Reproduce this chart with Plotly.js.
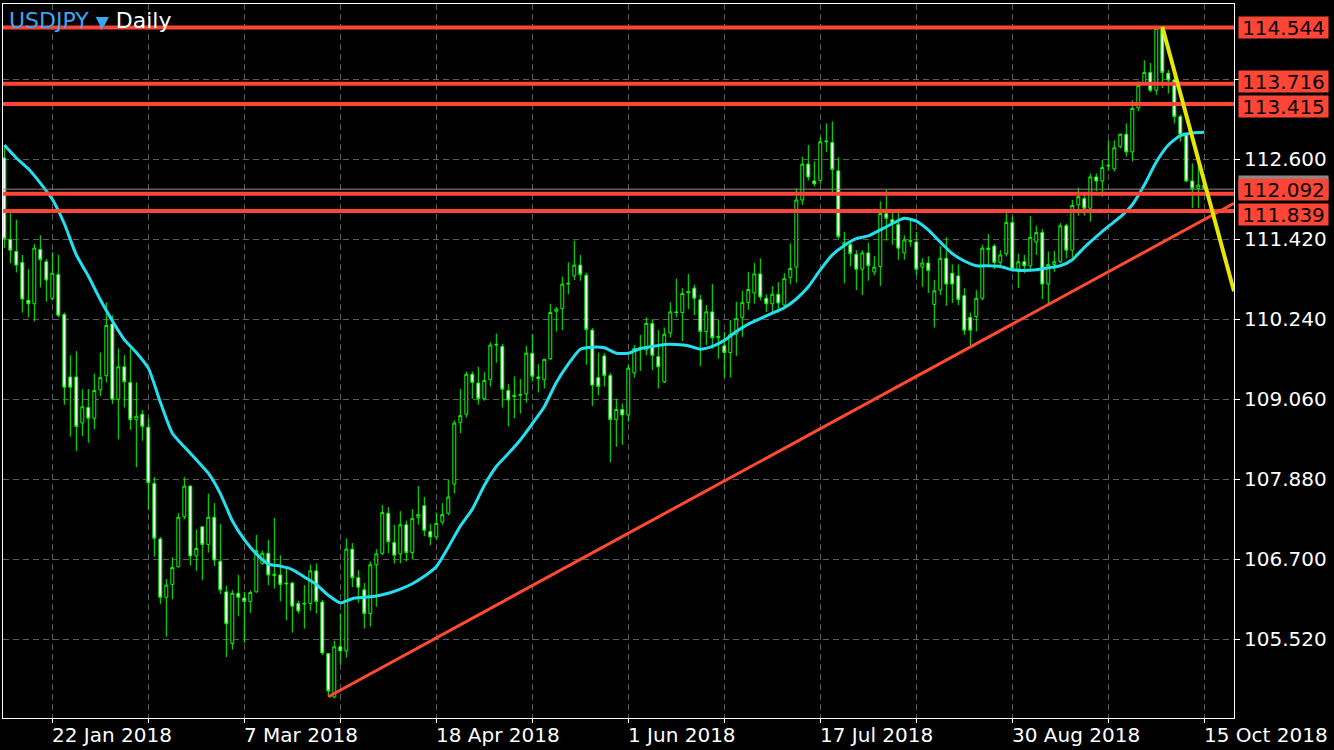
<!DOCTYPE html>
<html>
<head>
<meta charset="utf-8">
<script src="https://cdn.plot.ly/plotly-3.0.1.min.js"></script>
<style>html,body{margin:0;padding:0;background:#000;}#chart{width:1334px;height:750px;}</style>
</head>
<body>
<div id="chart"></div>
<script>
// ---------- DATA ----------
const START_DATE = '2018-01-10';
const END_DATE = '2018-10-15';
const extraSundayBars = ['2018-03-11', '2018-03-18'];

const open = [
112.62,111.42,111.24,111.08,110.52,110.47,111.27,111.09,110.55,110.90,
110.31,109.39,109.39,108.71,108.94,108.78,109.20,109.41,110.17,109.06,
109.54,109.31,108.76,108.84,108.65,107.82,107.00,106.14,106.33,106.59,
107.33,107.78,106.75,107.18,106.92,107.32,106.67,106.22,105.46,106.20,
106.13,106.08,106.22,106.64,106.79,106.46,106.47,106.35,106.35,106.05,
106.04,106.05,106.53,106.07,105.31,104.67,105.41,105.35,106.85,106.43,
106.25,105.90,106.62,106.79,107.38,106.95,106.78,107.21,106.80,107.32,
107.49,107.11,107.03,107.25,107.38,107.81,108.72,108.84,109.43,109.30,
109.07,109.35,109.86,109.84,109.19,109.10,109.12,109.14,109.74,109.39,
109.35,109.66,110.36,110.40,110.76,110.88,111.04,110.89,110.08,109.38,
109.70,109.41,108.76,108.91,108.83,109.45,109.79,109.79,110.18,109.69,
109.32,110.04,110.35,110.34,110.63,110.70,110.53,110.06,110.35,109.97,
109.85,109.75,110.02,110.27,110.49,110.63,110.91,110.55,110.47,110.61,
110.45,110.86,111.01,112.00,112.53,112.28,112.29,112.86,112.85,112.43,
111.34,111.34,111.20,110.98,111.22,110.94,111.02,111.80,111.71,111.64,
111.22,111.40,111.38,111.01,111.07,110.46,110.67,111.14,110.92,110.88,
110.59,110.27,110.28,110.55,111.27,111.32,111.08,111.21,111.67,110.98,
111.09,111.03,111.38,111.52,110.76,111.05,111.09,111.62,111.26,111.93,
112.02,111.88,112.34,112.28,112.50,112.46,112.79,112.97,112.71,113.36,
113.72,113.88,113.62,114.54,113.87,113.77,113.23,112.96,112.28,112.17,
112.22];

const high = [
112.79,111.83,111.71,111.19,110.98,111.35,111.48,111.13,111.23,111.19,
110.34,109.71,109.77,109.21,109.21,109.44,109.75,110.49,110.30,109.81,
109.71,109.81,109.31,108.90,108.78,107.91,107.03,106.41,106.73,107.38,
107.91,107.79,107.14,107.19,107.67,107.53,107.22,106.31,106.25,106.47,
106.22,106.24,107.06,106.83,106.99,107.31,106.76,106.58,106.37,106.09,
106.32,106.62,106.64,106.10,105.32,105.50,105.90,107.01,106.94,106.54,
106.35,106.67,106.85,107.50,107.47,107.21,107.41,107.27,107.44,107.78,
107.62,107.22,107.39,107.53,107.87,108.75,109.21,109.47,109.47,109.54,
109.46,109.90,110.03,109.88,109.29,109.40,109.36,109.85,110.02,109.58,
109.66,110.47,110.42,110.87,111.08,111.40,111.19,110.93,110.11,109.75,
109.74,109.45,109.07,109.00,109.57,109.86,110.01,110.27,110.24,110.08,
110.12,110.49,110.84,110.70,110.91,110.75,110.60,110.45,110.76,110.23,
110.06,110.23,110.50,110.66,110.94,111.07,111.14,110.61,110.73,110.79,
110.92,111.36,112.17,112.64,112.81,112.57,112.93,113.13,113.16,112.63,
111.53,111.39,111.26,111.26,111.37,111.17,111.98,112.15,111.83,111.83,
111.48,111.73,111.53,111.14,111.17,110.82,111.32,111.45,111.05,111.05,
110.70,110.34,110.67,111.34,111.50,111.35,111.26,111.83,111.76,111.21,
111.19,111.76,111.62,111.57,111.24,111.25,111.66,111.65,112.00,112.18,
112.10,112.39,112.39,112.59,112.88,112.88,112.98,113.13,113.47,113.75,
114.06,114.02,114.54,114.55,113.92,113.84,113.26,112.98,112.54,112.50,
112.26];

const low = [
111.29,111.07,110.93,110.34,110.27,110.21,110.71,110.50,110.52,110.27,
108.98,108.51,108.30,108.52,108.42,108.62,109.11,109.31,108.99,108.47,
108.94,108.61,108.06,108.45,107.43,106.74,106.04,105.56,106.11,106.58,
107.29,106.61,106.53,106.39,106.80,106.60,106.19,105.26,105.37,105.86,
105.47,105.91,106.21,106.62,106.32,106.27,106.08,105.80,105.62,105.90,
105.68,105.94,105.90,105.29,104.67,104.65,105.15,105.25,106.29,106.06,
105.68,105.71,106.00,106.76,106.79,106.64,106.64,106.67,106.70,107.21,
107.04,106.91,106.99,107.21,107.35,107.67,108.56,108.79,109.07,108.98,
109.04,109.25,109.60,108.94,108.66,108.78,108.85,109.01,109.32,109.16,
109.22,109.64,110.06,110.08,110.61,110.82,110.81,109.57,108.96,109.12,
109.25,108.13,108.36,108.39,108.73,109.38,109.48,109.71,109.49,109.22,
109.30,109.97,110.27,109.92,110.39,110.30,109.55,109.86,109.81,109.66,
109.38,109.38,109.70,109.98,110.38,110.47,110.52,110.35,110.33,110.34,
110.43,110.76,110.78,111.93,112.29,112.20,112.24,112.71,112.07,111.43,
110.77,111.02,110.67,110.60,110.81,110.89,110.73,111.40,111.34,111.12,
111.12,111.31,110.89,110.72,110.63,110.12,110.60,110.44,110.48,110.45,
110.01,109.86,110.06,110.52,111.04,110.98,111.03,111.17,110.94,110.70,
110.92,110.97,111.19,110.54,110.44,110.94,111.07,111.14,111.15,111.77,
111.77,111.68,112.13,112.05,112.43,112.42,112.76,112.64,112.57,113.31,
113.70,113.59,113.55,113.65,113.57,113.13,112.86,112.27,111.88,111.88,
112.14];

const close = [
111.43,111.26,111.04,110.54,110.47,111.29,111.12,110.82,110.92,110.30,
109.24,109.24,108.66,108.95,108.78,109.19,109.38,110.15,109.06,109.54,
109.32,108.76,108.81,108.66,107.83,107.01,106.14,106.32,106.58,107.32,
107.78,106.75,106.86,106.92,107.32,106.69,106.25,105.75,106.20,106.14,
106.08,106.21,106.83,106.79,106.47,106.48,106.33,106.34,106.01,105.94,
106.05,106.53,106.08,105.32,104.76,105.41,105.35,106.85,106.43,106.29,
105.90,106.62,106.78,107.39,106.96,106.76,107.21,106.80,107.30,107.36,
107.13,107.03,107.23,107.36,107.62,108.71,108.82,109.43,109.31,109.07,
109.34,109.86,109.87,109.21,109.05,109.12,109.13,109.74,109.40,109.37,
109.65,110.34,110.39,110.76,110.77,111.04,110.90,110.09,109.27,109.25,
109.41,108.76,108.91,108.83,109.52,109.81,109.80,110.18,109.71,109.54,
110.02,110.35,110.34,110.62,110.65,110.55,110.06,110.35,109.97,109.99,
109.75,110.02,110.25,110.49,110.68,110.91,110.57,110.47,110.61,110.48,
110.84,110.99,112.00,112.53,112.34,112.24,112.86,112.87,112.45,111.46,
111.37,111.21,110.98,111.22,111.03,111.01,111.80,111.73,111.66,111.29,
111.41,111.39,110.98,111.07,110.96,110.66,111.14,110.76,110.76,110.53,
110.08,110.08,110.55,111.29,111.29,111.08,111.19,111.67,110.98,111.09,
111.03,111.45,111.52,110.76,111.05,111.09,111.62,111.26,111.92,112.05,
111.88,112.34,112.28,112.48,112.51,112.77,112.97,112.71,113.35,113.69,
113.88,113.62,114.53,113.88,113.77,113.23,112.97,112.28,112.17,112.22,
112.17];

// moving average, read every second bar
const maValues = [
112.81,112.62,112.46,112.25,112.01,111.65,111.19,110.88,110.53,110.22,
109.94,109.75,109.52,109.02,108.56,108.36,108.17,107.97,107.67,107.27,
106.99,106.78,106.63,106.60,106.55,106.44,106.33,106.17,106.06,106.12,
106.14,106.16,106.20,106.26,106.34,106.45,106.59,106.88,107.19,107.44,
107.79,108.07,108.26,108.46,108.70,108.95,109.31,109.58,109.80,109.83,
109.82,109.74,109.74,109.81,109.84,109.87,109.87,109.85,109.80,109.84,
109.93,110.06,110.17,110.25,110.33,110.41,110.54,110.72,110.97,111.19,
111.33,111.43,111.47,111.56,111.65,111.73,111.69,111.56,111.38,111.21,
111.10,111.03,111.03,111.02,110.97,110.96,110.97,111.00,111.03,111.12,
111.30,111.46,111.61,111.75,111.93,112.22,112.56,112.81,112.95,112.99,
113.00];

const levelPrices = [114.544, 113.716, 113.415, 112.092, 111.839];
const bidPrice = 112.16;

const supportTrendDates = ['2018-03-23', '2018-10-15'];
const supportTrendPrices = [104.674, 111.712];
const resistTrendDates = ['2018-10-04', '2018-10-15'];
const resistTrendPrices = [114.556, 112.27];

const priceTicks = [105.52, 106.70, 107.88, 109.06, 110.24, 111.42, 112.60, 113.78];
const dateLabelDates = ['2018-01-22', '2018-03-07', '2018-04-18', '2018-06-01', '2018-07-17', '2018-08-30', '2018-10-15'];
const dateLabelTexts = ['22 Jan 2018', '7 Mar 2018', '18 Apr 2018', '1 Jun 2018', '17 Jul 2018', '30 Aug 2018', '15 Oct 2018'];

// ---------- BUILD ----------
function buildDates() {
  const out = [];
  let d = new Date(START_DATE + 'T00:00:00Z');
  const end = new Date(END_DATE + 'T00:00:00Z');
  while (d <= end) {
    const wd = d.getUTCDay();
    const s = d.toISOString().slice(0, 10);
    if ((wd >= 1 && wd <= 5) || extraSundayBars.includes(s)) out.push(s);
    d = new Date(d.getTime() + 86400000);
  }
  return out;
}
const dates = buildDates();
const maDates = dates.filter((d, i) => i % 2 === 0);

const W = 1334, H = 750;
const MARGIN = { l: 3, r: 100, t: 4, b: 32 };
const X_RANGE = [-0.22, 204.95];
const Y_RANGE = [104.36, 114.891];
const PX_PER_PRICE = (H - MARGIN.t - MARGIN.b) / (Y_RANGE[1] - Y_RANGE[0]);

const FONT = 'DejaVu Sans, Verdana, sans-serif';
const RED = '#ff4636';
const LABEL_H = 21;       // label box height
const LABEL_SPACING = 25; // minimum distance between label centres

const candles = {
  type: 'candlestick',
  x: dates, open: open, high: high, low: low, close: close,
  increasing: { line: { color: '#00ff00', width: 1 }, fillcolor: '#000000' },
  decreasing: { line: { color: '#00ff00', width: 1 }, fillcolor: '#ffffff' },
  whiskerwidth: 0,
  hoverinfo: 'skip',
  showlegend: false
};
const ma = {
  type: 'scatter', mode: 'lines',
  x: maDates, y: maValues,
  line: { color: '#22e0f0', width: 3, shape: 'spline', smoothing: 0.6 },
  hoverinfo: 'skip', showlegend: false
};

function ray(dts, prs, color, width) {
  const i0 = dates.indexOf(dts[0]);
  const i1 = dates.indexOf(dts[1]);
  const slope = (prs[1] - prs[0]) / (i1 - i0);
  const xe = X_RANGE[1];
  return { type: 'line', xref: 'x', yref: 'y', layer: 'above',
    x0: i0, y0: prs[0], x1: xe, y1: prs[0] + slope * (xe - i0),
    line: { color: color, width: width } };
}

const shapes = [];
shapes.push({ type: 'line', xref: 'paper', yref: 'y', x0: 0, x1: 1, y0: bidPrice, y1: bidPrice,
  layer: 'above', line: { color: '#8a8a8a', width: 1 } });
levelPrices.forEach(p => shapes.push({ type: 'line', xref: 'paper', yref: 'y', x0: 0, x1: 1, y0: p, y1: p,
  layer: 'above', line: { color: RED, width: 4 } }));
shapes.push(ray(supportTrendDates, supportTrendPrices, '#ff4a2e', 3));
shapes.push(ray(resistTrendDates, resistTrendPrices, '#e6e600', 4));

// spread price labels apart so they do not overlap
const sortedLevels = levelPrices.slice().sort((a, b) => b - a);
const labelShift = {};
sortedLevels.forEach(p => labelShift[p] = 0);
for (let k = 0; k < sortedLevels.length - 1; k++) {
  const a = sortedLevels[k], b = sortedLevels[k + 1];
  const gap = (a - b) * PX_PER_PRICE + labelShift[a] - labelShift[b];
  if (gap < LABEL_SPACING) {
    const push = (LABEL_SPACING - gap) / 2;
    labelShift[a] += push;
    labelShift[b] -= push;
  }
}

const annotations = [];
// title
annotations.push({
  xref: 'paper', yref: 'paper', x: 0, y: 1, xanchor: 'left', yanchor: 'top', xshift: 4, yshift: -2,
  showarrow: false,
  text: '<span style="color:#3ea6ec">USDJPY </span><span style="color:#3ea6ec;font-size:17px">▼</span> Daily',
  font: { family: FONT, size: 22, color: '#ffffff' }
});
// date labels (left-aligned at ticks)
dateLabelDates.forEach((d, k) => annotations.push({
  xref: 'x', yref: 'paper', x: d, y: 0, xanchor: 'left', yanchor: 'top', xshift: -2, yshift: -3,
  showarrow: false, text: dateLabelTexts[k],
  font: { family: FONT, size: 20, color: '#ffffff' }
}));
// bid label (hidden behind level labels)
annotations.push({
  xref: 'paper', yref: 'y', x: 1, y: bidPrice, xanchor: 'left', yanchor: 'middle', xshift: 4, yshift: 3,
  showarrow: false, text: ' ', width: 87, height: LABEL_H - 2, borderpad: 1, bgcolor: '#8a8a8a',
  font: { family: FONT, size: 20, color: '#000' }
});
// level labels
levelPrices.forEach(p => annotations.push({
  xref: 'paper', yref: 'y', x: 1, y: p, xanchor: 'left', yanchor: 'middle', xshift: 4, yshift: labelShift[p],
  showarrow: false, text: p.toFixed(3), width: 87, height: LABEL_H - 2, borderpad: 1, bgcolor: RED, align: 'center',
  font: { family: FONT, size: 20, color: '#000000' }
}));

// x ticks every 16 bars
const xTickVals = [];
dateLabelDates.forEach(d => {
  const i = dates.indexOf(d);
  xTickVals.push(dates[i]);
  if (i + 16 < dates.length) xTickVals.push(dates[i + 16]);
});
// price tick texts hidden when covered by a level label
const yTickText = priceTicks.map(v =>
  levelPrices.some(p => Math.abs(p - v) * PX_PER_PRICE < 14) ? '' : v.toFixed(3));

const layout = {
  width: W, height: H,
  paper_bgcolor: '#000000', plot_bgcolor: '#000000',
  margin: MARGIN,
  showlegend: false,
  boxgap: 0.3,
  hovermode: false,
  xaxis: {
    type: 'category', range: X_RANGE, autorange: false,
    rangeslider: { visible: false },
    tickvals: xTickVals, ticktext: xTickVals.map(() => ''),
    ticks: 'outside', ticklen: 4, tickcolor: '#ffffff',
    showgrid: true, gridcolor: '#5c5c5c', griddash: '6px,4px', gridwidth: 1,
    showline: true, linecolor: '#ffffff', linewidth: 1, mirror: true,
    zeroline: false, fixedrange: true
  },
  yaxis: {
    side: 'right', range: Y_RANGE, autorange: false,
    tickvals: priceTicks, ticktext: yTickText,
    ticks: 'outside', ticklen: 5, tickcolor: '#ffffff',
    tickfont: { family: FONT, size: 20, color: '#ffffff' },
    showgrid: true, gridcolor: '#5c5c5c', griddash: '6px,4px', gridwidth: 1,
    showline: true, linecolor: '#ffffff', linewidth: 1, mirror: true,
    zeroline: false, fixedrange: true
  },
  shapes: shapes,
  annotations: annotations
};

Plotly.newPlot('chart', [candles, ma], layout, { displayModeBar: false, staticPlot: true });
</script>
</body>
</html>
